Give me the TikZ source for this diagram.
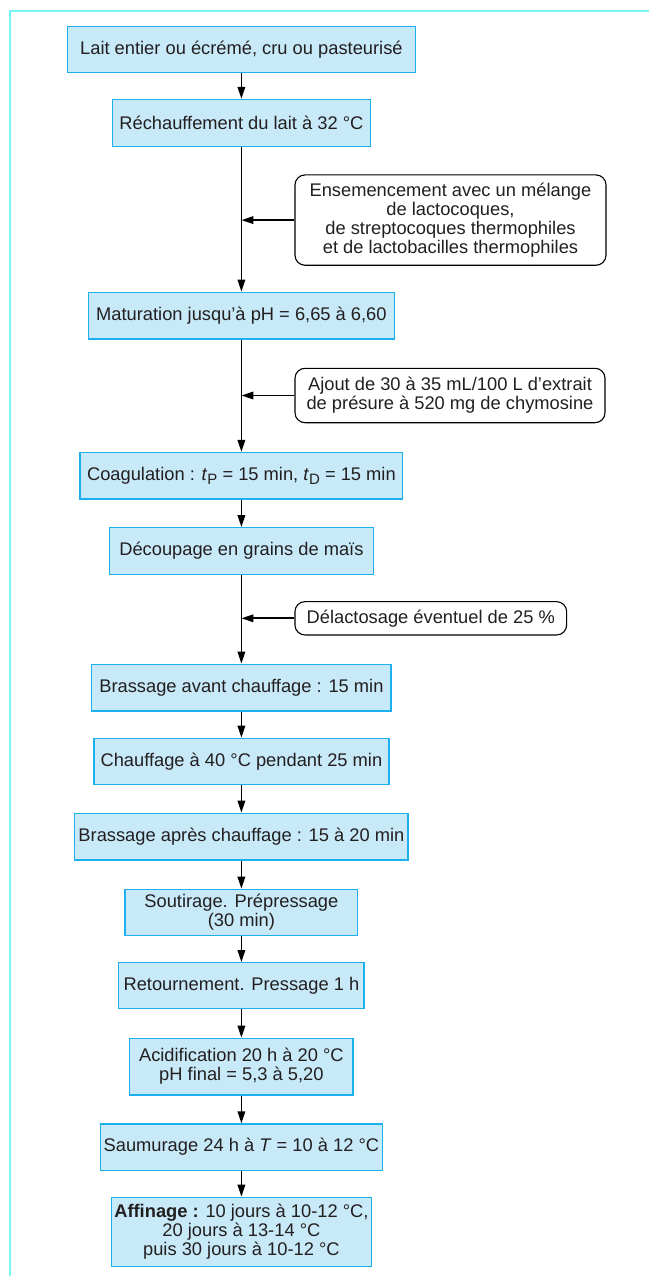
\documentclass[tikz,border=0pt]{standalone}
\usepackage{fontspec}
\setmainfont{Liberation Sans}
\usetikzlibrary{arrows.meta}
\definecolor{boxfill}{RGB}{199,233,248}
\definecolor{boxline}{RGB}{30,176,236}
\definecolor{framecol}{RGB}{120,245,245}
\definecolor{ink}{RGB}{35,31,32}
\tikzset{
  stepbox/.style={draw=boxline, fill=boxfill, line width=1.2pt, inner sep=0pt,
    align=center, text=ink, font=\fontsize{18.3}{19}\selectfont},
  addbox/.style={draw=black, fill=white, line width=1.1pt, rounded corners=10pt,
    inner sep=0pt, align=center, text=ink, font=\fontsize{18.3}{19}\selectfont},
  arr/.style={line width=1.8pt, -{Triangle[length=12pt,width=7.5pt]}},
}
\newcommand{\sbs}[1]{\raisebox{-0.4ex}{\fontsize{15}{15}\selectfont #1}}
\newcommand{\apos}{{\char"27}}
\begin{document}
\begin{tikzpicture}[x=1pt,y=-1pt]
\useasboundingbox (0,0) rectangle (649,1276);
% open frame: top and left rules
\draw[framecol, line width=1.6pt] (10,1276) -- (10,11) -- (649,11);

% main chain of steps
\node[stepbox, minimum width=348pt, minimum height=46pt] (r1) at (241.4,49.3)
  {Lait entier ou écrémé, cru ou pasteurisé};
\node[stepbox, minimum width=258pt, minimum height=47pt] (r2) at (241.4,122.9)
  {Réchauffement du lait à 32 °C};
\node[stepbox, minimum width=306.5pt, minimum height=46.7pt] (r3) at (241.4,315.6)
  {Maturation jusqu\apos à pH = 6,65 à 6,60};
\node[stepbox, minimum width=322.7pt, minimum height=46.5pt] (r4) at (241.4,475.7)
  {Coagulation : \textit{t}\sbs{P} = 15 min, \textit{t}\sbs{D} = 15 min};
\node[stepbox, minimum width=263.6pt, minimum height=46.6pt] (r5) at (241.4,551)
  {Découpage en grains de maïs};
\node[stepbox, minimum width=299.3pt, minimum height=46.7pt] (r6) at (241.4,687.6)
  {Brassage avant chauffage : 15 min};
\node[stepbox, minimum width=295pt, minimum height=46pt] (r7) at (241.4,761.3)
  {Chauffage à 40 °C pendant 25 min};
\node[stepbox, minimum width=333.3pt, minimum height=46.7pt] (r8) at (241.4,836.6)
  {Brassage après chauffage : 15 à 20 min};
\node[stepbox, minimum width=232.7pt, minimum height=46pt] (r9) at (241.4,912.3)
  {Soutirage. Prépressage\\(30 min)};
\node[stepbox, minimum width=245.3pt, minimum height=46pt] (r10) at (241.4,985.7)
  {Retournement. Pressage 1 h};
\node[stepbox, minimum width=223.3pt, minimum height=56.7pt] (r11) at (241.4,1066.6)
  {Acidification 20 h à 20 °C\\pH final = 5,3 à 5,20};
\node[stepbox, minimum width=281.9pt, minimum height=46.3pt] (r12) at (241.4,1147.1)
  {Saumurage 24 h à \textit{T} = 10 à 12 °C};
\node[stepbox, minimum width=260pt, minimum height=69.4pt] (r13) at (241.4,1232)
  {\textbf{Affinage :} 10 jours à 10-12 °C,\\20 jours à 13-14 °C\\puis 30 jours à 10-12 °C};

% additions fed in from the side
\node[addbox, minimum width=311pt, minimum height=90.3pt] (s1) at (450.5,220.1)
  {Ensemencement avec un mélange\\de lactocoques,\\de streptocoques thermophiles\\et de lactobacilles thermophiles};
\node[addbox, minimum width=310pt, minimum height=54.4pt] (s2) at (450,395.5)
  {Ajout de 30 à 35 mL/100 L d\apos extrait\\de présure à 520 mg de chymosine};
\node[addbox, minimum width=271.7pt, minimum height=33.3pt] (s3) at (430.8,618.3)
  {Délactosage éventuel de 25 \%};

% flow connectors
\draw[arr] (r1) -- (r2);
\draw[arr] (r2) -- (r3);
\draw[arr] (r3) -- (r4);
\draw[arr] (r4) -- (r5);
\draw[arr] (r5) -- (r6);
\draw[arr] (r6) -- (r7);
\draw[arr] (r7) -- (r8);
\draw[arr] (r8) -- (r9);
\draw[arr] (r9) -- (r10);
\draw[arr] (r10) -- (r11);
\draw[arr] (r11) -- (r12);
\draw[arr] (r12) -- (r13);
\draw[arr] (s1.west) -- (s1.west -| r2.south);
\draw[arr] (s2.west) -- (s2.west -| r3.south);
\draw[arr] (s3.west) -- (s3.west -| r5.south);
\end{tikzpicture}
\end{document}
